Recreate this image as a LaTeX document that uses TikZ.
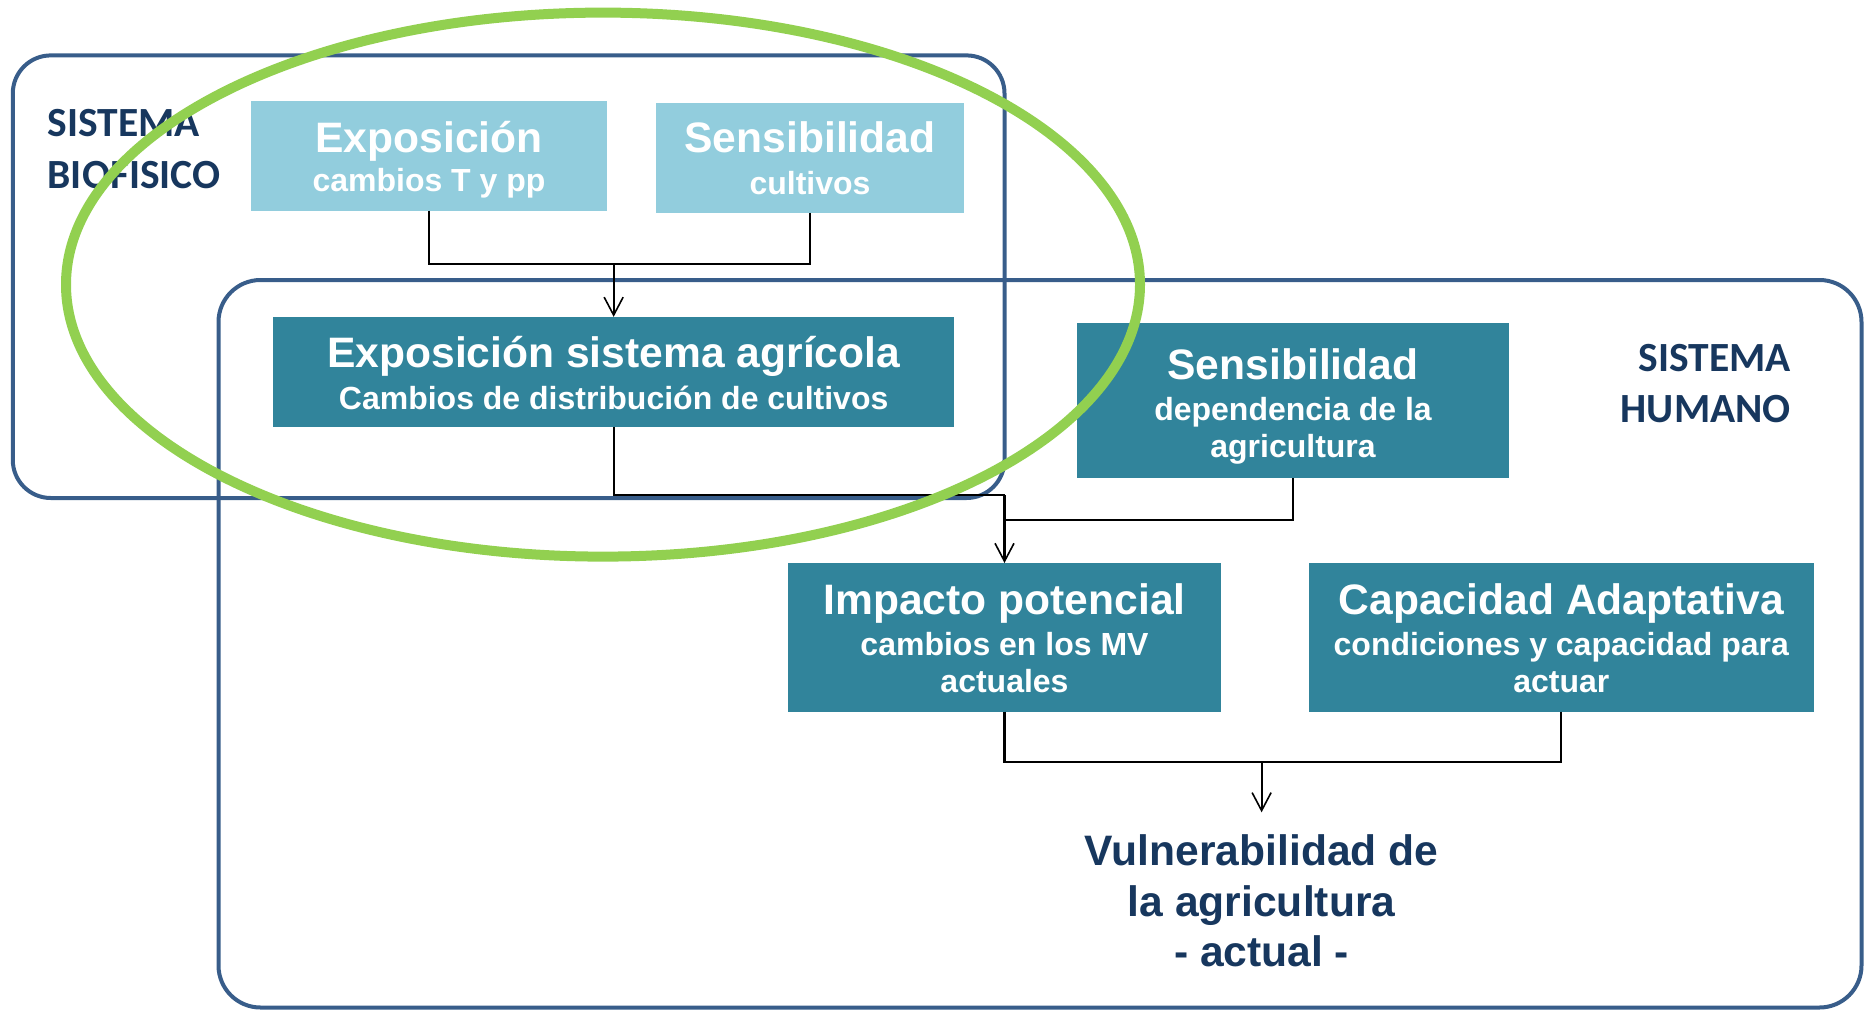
\documentclass[tikz,border=0pt]{standalone}
\usepackage{fontspec}
\setmainfont{Liberation Sans}
\newfontfamily\calibfont{Carlito}
\usetikzlibrary{arrows.meta}
\definecolor{lightbox}{RGB}{146,205,221}
\definecolor{tealbox}{RGB}{49,132,155}
\definecolor{frameblue}{RGB}{56,93,138}
\definecolor{navytext}{RGB}{23,55,94}
\definecolor{ringgreen}{RGB}{146,208,80}
\tikzset{
  lbox/.style={fill=lightbox, inner sep=0pt, outer sep=0pt},
  dbox/.style={fill=tealbox, inner sep=0pt, outer sep=0pt},
  ttl/.style={font=\fontsize{42.6}{42.6}\selectfont\bfseries, text=white, anchor=base, inner sep=0pt},
  sub/.style={font=\fontsize{32}{32}\selectfont\bfseries, text=white, anchor=base, inner sep=0pt},
  vul/.style={font=\fontsize{42.6}{42.6}\selectfont\bfseries, text=navytext, anchor=base, inner sep=0pt},
  syslbl/.style={font=\calibfont\fontsize{41.5}{41.5}\selectfont\bfseries, text=navytext, inner sep=0pt},
  sysframe/.style={draw=frameblue, line width=4pt},
  conn/.style={draw=black, line width=2.2pt},
  arr/.style={conn, -{Straight Barb[length=18pt, width=19pt, line width=1.6pt]}},
  ring/.style={draw=ringgreen, line width=10pt}
}
\begin{document}
\begin{tikzpicture}[x=1pt, y=-1pt]
\useasboundingbox (0,0) rectangle (1864,1010);

% system frames
\draw[sysframe, rounded corners=42pt] (218.5,280) rectangle (1861.5,1007.5);
\draw[sysframe, rounded corners=38pt] (12.8,55.4) rectangle (1004.5,498);

% junction coordinates
\coordinate (j1) at (613.65,263.6);
\coordinate (j2) at (1004.5,495);
\coordinate (j3) at (1004.5,520);
\coordinate (j4) at (1261.6,762.3);
\coordinate (vtip) at (1261.6,812.3);

% boxes
\node[lbox, minimum width=355.7pt, minimum height=109.7pt] (expo) at (429,155.85) {};
\node[lbox, minimum width=308pt, minimum height=109.7pt] (sens1) at (810,157.85) {};
\node[dbox, minimum width=680.7pt, minimum height=110pt] (agri) at (613.65,371.85) {};
\node[dbox, minimum width=431.4pt, minimum height=155pt] (sens2) at (1293,400.5) {};
\node[dbox, minimum width=432.7pt, minimum height=148.7pt] (imp) at (1004.5,637.35) {};
\node[dbox, minimum width=504.6pt, minimum height=148.7pt] (cap) at (1561.3,637.35) {};

% connectors
\draw[conn] (expo.south) |- (j1);
\draw[conn] (sens1.south) |- (j1);
\draw[arr] (j1) -- (agri.north);
\draw[conn] (agri.south) |- (j2);
\draw[conn] (sens2.south) |- (j3);
\draw[conn] (j2) -- (j3);
\draw[arr] (j3) -- (imp.north);
\draw[conn] (imp.south) |- (j4);
\draw[conn] (cap.south) |- (j4);
\draw[arr] (j4) -- (vtip);

% box texts
\node[ttl] (expoT) at (429,152.7) {Exposición};
\node[sub] (expoS) at (429,191.7) {cambios T y pp};
\node[ttl] (sens1T) at (810,152.3) {Sensibilidad};
\node[sub] (sens1S) at (810,194.3) {cultivos};
\node[ttl] (agriT) at (613.65,367.7) {Exposición sistema agrícola};
\node[sub] (agriS) at (613.65,409) {Cambios de distribución de cultivos};
\node[ttl] (sens2T) at (1293,379.7) {Sensibilidad};
\node[sub] (sens2S) at (1293,420.7) {dependencia de la};
\node[sub] (sens2U) at (1293,457.3) {agricultura};
\node[ttl] (impT) at (1004.5,614.3) {Impacto potencial};
\node[sub] (impS) at (1004.5,655) {cambios en los MV};
\node[sub] (impU) at (1004.5,692.3) {actuales};
\node[ttl] (capT) at (1561.3,614.3) {Capacidad Adaptativa};
\node[sub] (capS) at (1561.3,655) {condiciones y capacidad para};
\node[sub] (capU) at (1561.3,692.3) {actuar};

% vulnerability result
\node[vul] (vul1) at (1261.6,865) {Vulnerabilidad de};
\node[vul] (vul2) at (1261.6,916) {la agricultura};
\node[vul] (vul3) at (1261.6,966.7) {- actual -};

% system labels
\node[syslbl, anchor=base west] (bio1) at (47.5,136.9) {SISTEMA};
\node[syslbl, anchor=base west] (bio2) at (47.5,188.2) {BIOFISICO};
\node[syslbl, anchor=base east] (hum1) at (1791,371.7) {SISTEMA};
\node[syslbl, anchor=base east] (hum2) at (1791,422.7) {HUMANO};

% green highlight ring
\draw[ring] (603,284.6) ellipse [x radius=537pt, y radius=272pt];
\end{tikzpicture}
\end{document}
